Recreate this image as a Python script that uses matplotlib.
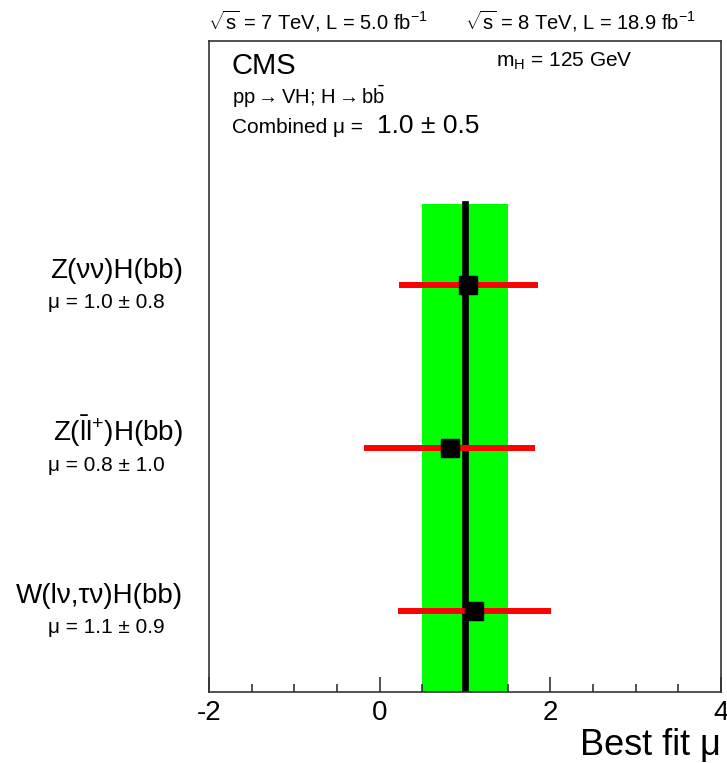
import matplotlib
matplotlib.use("Agg")
import matplotlib.pyplot as plt
import matplotlib.transforms as mtransforms
from matplotlib.ticker import MultipleLocator, FuncFormatter

plt.rcParams['font.family'] = ['Liberation Sans', 'DejaVu Sans']
plt.rcParams['mathtext.fontset'] = 'custom'
plt.rcParams['mathtext.rm'] = 'Liberation Sans'
plt.rcParams['mathtext.it'] = 'Liberation Sans:italic'
plt.rcParams['mathtext.bf'] = 'Liberation Sans:bold'

# channel results (best fit signal strength, symmetric error)
channels = ['Z(\u03bd\u03bd)H(bb)', r'Z($\bar{\mathrm{l}}$l$^{+}$)H(bb)', 'W(l\u03bd,\u03c4\u03bd)H(bb)']
mu_vals = [1.04, 0.82, 1.11]
mu_errs = [0.81, 1.00, 0.90]
y_pos = [2.5, 1.5, 0.5]

combined_mu = 1.0
combined_err = 0.5

fig = plt.figure(figsize=(7.27, 7.63), dpi=100)
ax = fig.add_axes([209 / 727, 71 / 763, 512 / 727, 651 / 763])

# combined band and central value
ax.fill_between([combined_mu - combined_err, combined_mu + combined_err], 0, 3,
                color='#00ff00', linewidth=0, zorder=1)
ax.plot([combined_mu, combined_mu], [0, 3], color='black', linewidth=4.8, zorder=2)

# per-channel points
for mu, err, y in zip(mu_vals, mu_errs, y_pos):
    ax.plot([mu - err, mu + err], [y, y], color='#ff0000', linewidth=4.3,
            solid_capstyle='butt', zorder=3)
    ax.plot(mu, y, marker='s', markersize=12.5, color='black', zorder=4)

ax.set_xlim(-2, 4)
ax.set_ylim(0, 4)
ax.xaxis.set_major_locator(MultipleLocator(2))
ax.xaxis.set_minor_locator(MultipleLocator(0.5))
ax.xaxis.set_major_formatter(FuncFormatter(lambda v, p: f'{v:.0f}'))
ax.tick_params(axis='x', which='major', direction='in', length=11, width=1.2,
               labelsize=20, pad=6, colors='#333333', labelcolor='black')
ax.tick_params(axis='x', which='minor', direction='in', length=6, width=1.2,
               colors='#333333')
ax.set_yticks([])
for sp in ax.spines.values():
    sp.set_linewidth(1.2)
    sp.set_color('#333333')

ax.text(1.0, -0.097, 'Best fit \u03bc', transform=ax.transAxes, ha='right',
        va='baseline', fontsize=26)

# channel labels on the left
trans = mtransforms.blended_transform_factory(ax.transAxes, ax.transData)
for name, mu, err, y in zip(channels, mu_vals, mu_errs, y_pos):
    ax.text(-0.051, y + 0.045, name, transform=trans, ha='right', va='baseline',
            fontsize=20)
    ax.text(-0.3145, y - 0.14, f'\u03bc = {mu:.1f} \u00b1 {err:.1f}', transform=trans,
            ha='left', va='baseline', fontsize=15)

# header texts
def px(x, y):
    return x / 727, 1 - y / 763

fig.text(*px(208, 29), r'$\sqrt{\mathrm{s}}$ = 7 TeV, L = 5.0 fb$^{-1}$', fontsize=14.5,
         va='baseline')
fig.text(*px(465, 29), r'$\sqrt{\mathrm{s}}$ = 8 TeV, L = 18.9 fb$^{-1}$', fontsize=14.5,
         va='baseline')
fig.text(*px(232, 74), 'CMS', fontsize=21, va='baseline')
fig.text(*px(496, 67), r'm$_{\mathrm{H}}$ = 125 GeV', fontsize=15, va='baseline')
fig.text(*px(232, 104), r'pp$\rightarrow$VH; H$\rightarrow$b$\bar{\mathrm{b}}$',
         fontsize=14.5, va='baseline')
fig.text(*px(232, 133), 'Combined \u03bc =', fontsize=15, va='baseline')
fig.text(*px(377, 133), f'{combined_mu:.1f} \u00b1 {combined_err:.1f}', fontsize=19,
         va='baseline')

fig.savefig('out.png', dpi=100)
